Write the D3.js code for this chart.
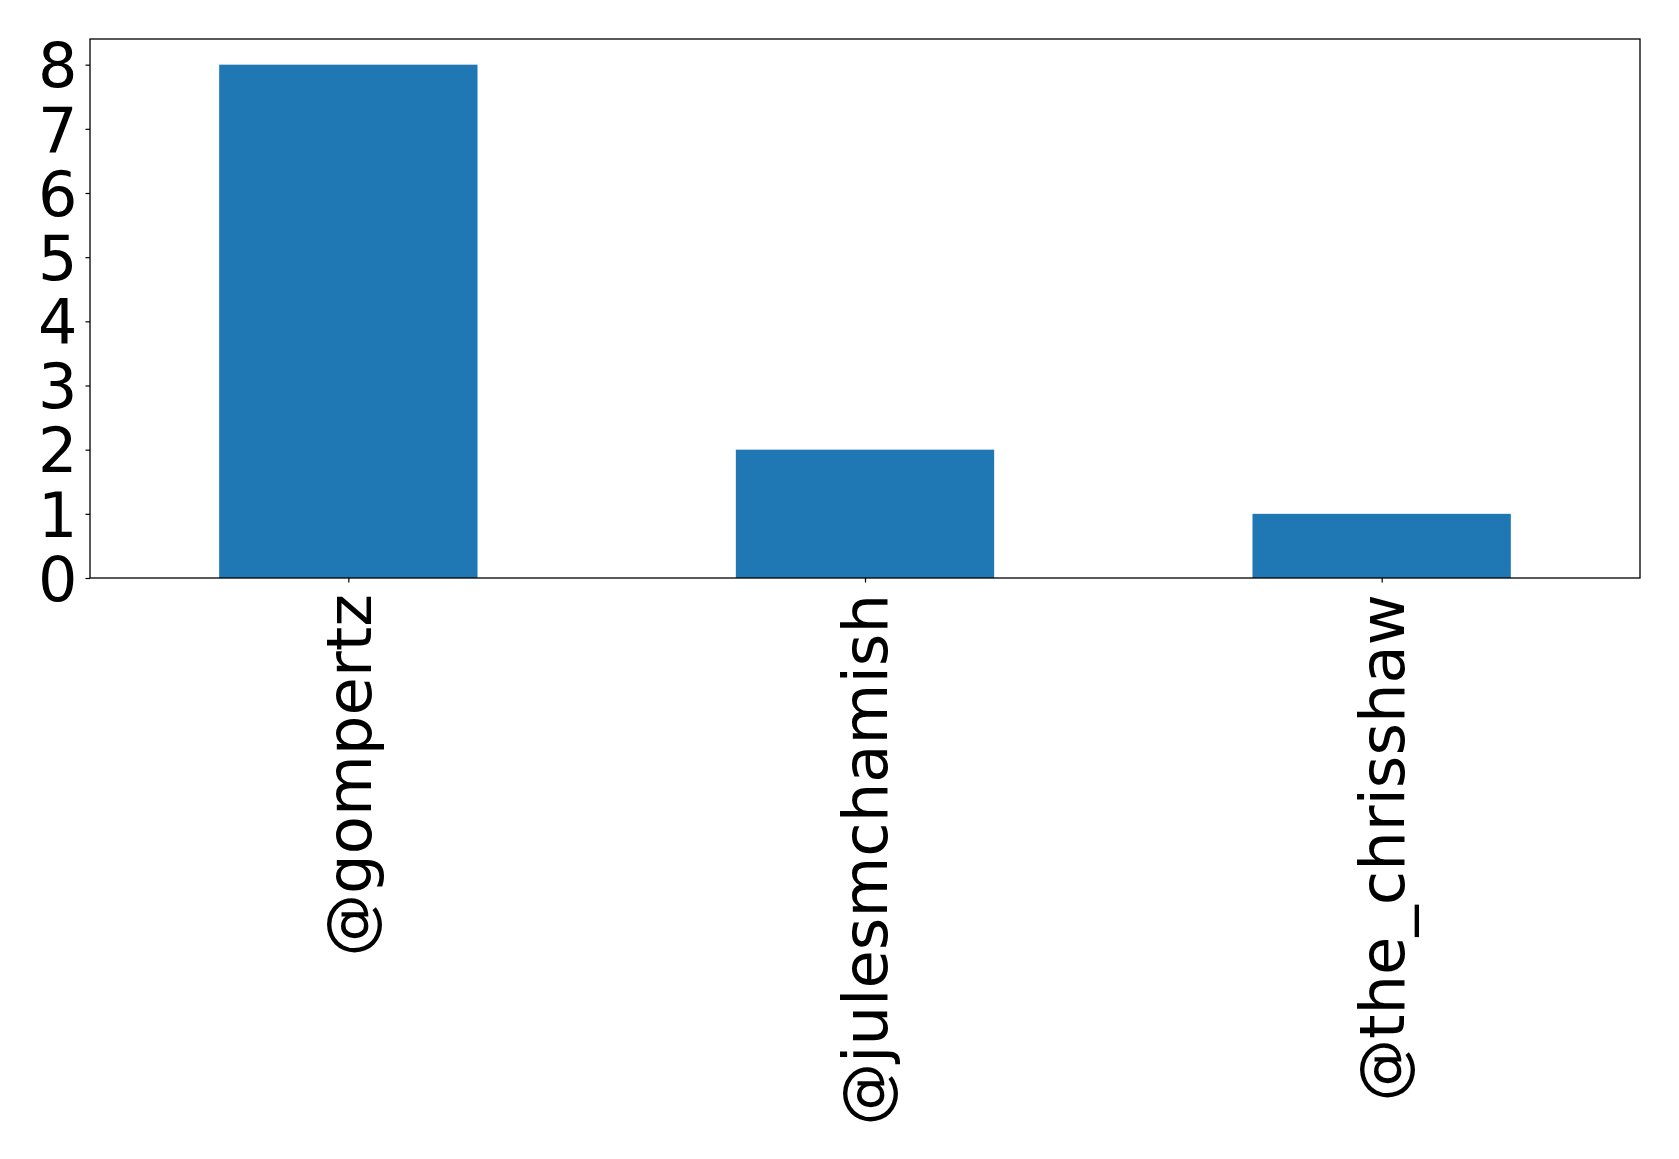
<!DOCTYPE html>
<html>
<head>
<meta charset="utf-8">
<script src="https://cdn.jsdelivr.net/npm/d3@7"></script>
<style>
  html, body { margin: 0; padding: 0; background: #fff; }
  svg { display: block; font-family: "DejaVu Sans", sans-serif; }
</style>
</head>
<body>
<svg id="chart" width="1679" height="1159"></svg>
<script>
const categories = ['@gompertz', '@julesmchamish', '@the_chrisshaw']
const counts = [8, 2, 1]
const yTicks = [0, 1, 2, 3, 4, 5, 6, 7, 8]

const width = 1679
const height = 1159
const margin = { top: 39, right: 39, bottom: 581, left: 90 }
const innerW = width - margin.left - margin.right
const innerH = height - margin.top - margin.bottom

const svg = d3.select('#chart')
const g = svg.append('g').attr('transform', `translate(${margin.left},${margin.top})`)

// pandas-style: xlim -0.5..n-0.5, bar width 0.5
const x = d3.scaleLinear()
  .domain([-0.5, categories.length - 0.5])
  .range([0, innerW])

const y = d3.scaleLinear()
  .domain([0, d3.max(counts) * 1.05])
  .range([innerH, 0])

g.selectAll('.bar')
  .data(counts)
  .enter().append('rect')
  .attr('class', 'bar')
  .attr('x', (d, i) => x(i - 0.25))
  .attr('width', (d, i) => x(i + 0.25) - x(i - 0.25))
  .attr('y', d => y(d))
  .attr('height', d => innerH - y(d))
  .attr('fill', '#1f77b4')

const yAxis = g.append('g')
  .call(d3.axisLeft(y).tickValues(yTicks).tickFormat(d3.format('d')).tickSize(4.5).tickPadding(8))
yAxis.select('.domain').remove()
yAxis.selectAll('line').attr('stroke', '#000').attr('stroke-width', 1.2)
yAxis.selectAll('text')
  .attr('fill', '#000')
  .attr('font-size', 62)
  .attr('font-family', '"DejaVu Sans", sans-serif')
  .attr('dy', '0.36em')

const xAxis = g.append('g')
  .attr('transform', `translate(0,${innerH})`)
  .call(d3.axisBottom(x).tickValues(d3.range(categories.length)).tickFormat(i => categories[i]).tickSize(4.5).tickPadding(0))
xAxis.select('.domain').remove()
xAxis.selectAll('line').attr('stroke', '#000').attr('stroke-width', 1.2)
xAxis.selectAll('text')
  .attr('fill', '#000')
  .attr('font-size', 62.5)
  .attr('font-family', '"DejaVu Sans", sans-serif')
  .attr('text-anchor', 'end')
  .attr('y', 0)
  .attr('dy', '0.35em')
  .attr('transform', 'translate(0,16) rotate(-90)')

// frame
g.append('rect')
  .attr('x', 0)
  .attr('y', 0)
  .attr('width', innerW)
  .attr('height', innerH)
  .attr('fill', 'none')
  .attr('stroke', '#000')
  .attr('stroke-width', 1.3)
</script>
</body>
</html>
